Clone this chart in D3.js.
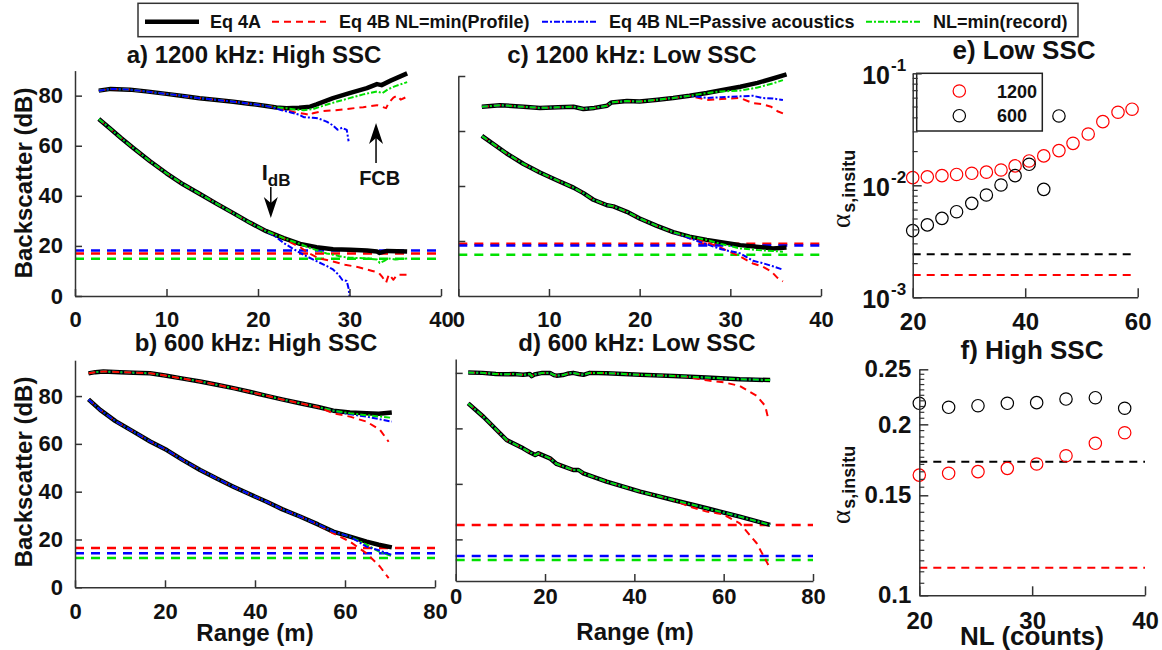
<!DOCTYPE html>
<html><head><meta charset="utf-8">
<script src="https://cdn.jsdelivr.net/npm/d3@7"></script>
<style>
body{margin:0;background:#fff}
svg text{font-family:"Liberation Sans",Arial,Helvetica,sans-serif;font-weight:bold;fill:#111}
</style>
</head><body>
<svg id="chart" width="1162" height="650"></svg>
<script>
// ---------------- DATA ----------------
function withTail(base, xmax, extra){ return base.filter(p => p[0] <= xmax).concat(extra); }

// Panel a: 1200 kHz, High SSC  ([range m, backscatter dB])
const aTopEq4A = [[2.6,82.0],[3.9,82.7],[6,82.4],[8,81.6],[10,80.7],[12,79.8],[13.6,79.0],[15.5,78.3],[17.3,77.6],[19,76.8],[20.9,75.9],[22,75.3],[23.1,75.0],[24.5,75.2],[25.7,75.6],[26.4,76.5],[28.2,79.0],[30,81.0],[31.9,83.0],[33.0,84.6],[33.5,84.2],[34.5,86.0],[36.3,88.9]];
const aTopProf = withTail(aTopEq4A, 22, [[23,74.2],[24,73.4],[25.2,72.7],[25.8,72.2],[26,73.0],[27,73.8],[28.5,74.2],[30,74.8],[31.5,75.4],[33,76.2],[33.5,75.6],[34,75.0],[34.3,77.2],[34.8,79.2],[35.2,80.0],[35.6,78.4],[36.3,79.6]]);
const aTopPass = withTail(aTopEq4A, 20.9, [[21.5,75.4],[22.5,74.3],[23.5,73.4],[24.5,72.4],[25.0,71.4],[26.0,71.2],[26.6,70.9],[27.5,69.6],[28.2,68.1],[28.7,66.4],[29.2,67.2],[29.7,66.3],[29.9,61.8]]);
const aTopRec = withTail(aTopEq4A, 23.1, [[24,74.5],[25,74.2],[26,74.6],[27,75.8],[28.5,77.5],[30,79.0],[31.5,80.5],[33,81.7],[33.6,81.0],[34.2,82.5],[35,83.8],[36.3,85.4]]);
const aLowEq4A = [[2.6,70.7],[3.8,67.0],[5,63.2],[6.4,59.0],[8.2,53.8],[10,49.0],[11.8,44.6],[13.65,40.7],[15.5,36.8],[17.3,33.1],[19.1,29.3],[20.9,25.9],[22.8,23.1],[24.6,20.8],[26.4,19.5],[28.2,18.7],[30.1,18.5],[31.9,18.2],[33.0,17.8],[33.3,17.2],[34.1,18.0],[36.3,17.8]];
const aLowProf = withTail(aLowEq4A, 22.8, [[23.5,21.5],[24.6,19.5],[25.5,17.2],[26.4,15.5],[27,14.8],[28.2,13.8],[29.5,12.5],[31,11.5],[32.5,10.0],[33.2,9.3],[33.6,7.5],[34.0,5.3],[34.3,8.6],[34.8,6.5],[35.2,8.5],[36.3,8.5]]);
const aLowPass = withTail(aLowEq4A, 20.9, [[21.8,24.0],[22.8,21.2],[24,18.5],[24.6,17.2],[25.5,15.5],[26.4,13.9],[27.5,12.0],[28.2,10.6],[28.8,8.5],[29.2,6.5],[29.7,6.0],[29.9,3.0],[30.0,0]]);
const aLowRec = withTail(aLowEq4A, 24.6, [[25.5,19.4],[26.4,18.3],[27.5,17.0],[28.2,16.5],[29,15.8],[30,15.3],[31.9,15.0],[33,14.6],[33.3,13.2],[33.8,14.0],[34.2,15.0],[35,14.6],[36.3,15.0]]);
const aNoise = [17.0, 18.2, 14.9];   // NL = min(Profile), Passive acoustics, min(record)

// Panel c: 1200 kHz, Low SSC
const cTopEq4A = [[2.6,68.8],[4.6,69.4],[7.2,68.8],[9,68.4],[11,68.6],[12.7,68.8],[13.8,68.0],[15,68.4],[16.4,69.2],[16.9,70.4],[18.6,70.9],[20,70.7],[22,71.4],[23.7,72.0],[25.5,72.8],[27.4,73.8],[29,74.8],[31.1,76.1],[33,77.5],[34.7,79.1],[36.2,80.6]];
const cTopProf = withTail(cTopEq4A, 25.5, [[27.4,71.3],[29,71.6],[31.1,72.0],[32.5,70.1],[33.5,69.8],[34.5,68.8],[35.2,67.2],[35.8,66.4]]);
const cTopPass = withTail(cTopEq4A, 25.5, [[27.4,72.0],[29,72.3],[31.1,72.6],[32.5,72.8],[33.5,72.0],[34.7,71.8],[35.8,71.3]]);
const cTopRec = withTail(cTopEq4A, 27.4, [[29,74.4],[31.1,74.7],[33,75.8],[34.7,77.3],[35.8,78.5]]);
const cLowEq4A = [[2.6,58.2],[5.3,51.9],[7.2,48.0],[9.0,44.9],[10.8,42.2],[12.7,39.4],[13.8,37.4],[14.9,35.0],[16.4,33.0],[17.1,32.6],[18.6,30.6],[20.0,28.2],[21.9,25.5],[23.7,23.2],[25.5,21.6],[27.4,20.4],[31.1,18.5],[34.7,17.3],[36.2,17.6]];
const cLowProf = withTail(cLowEq4A, 23.7, [[25.5,21.0],[27.4,19.5],[29,17.5],[31.1,14.3],[32.5,11.8],[33.5,10.8],[34.5,9.0],[35.2,6.6],[35.8,5.3]]);
const cLowPass = withTail(cLowEq4A, 23.7, [[25.5,21.0],[27.4,18.8],[29,17.0],[31.1,15.5],[32.5,12.8],[33.5,12.0],[34.7,10.8],[35.8,9.6]]);
const cLowRec = withTail(cLowEq4A, 27.4, [[29,18.9],[31.1,17.3],[33,16.7],[34.7,16.4],[35.8,16.1]]);
const cNoise = [19.0, 18.4, 15.0];

// Panel b: 600 kHz, High SSC
const bTopEq4A = [[3.0,89.5],[4.5,90.0],[6.3,90.3],[10,90.0],[13,89.8],[16.7,89.5],[20,88.6],[24,87.3],[27.8,86.1],[31.5,84.7],[35.2,83.3],[39,81.7],[42.6,80.1],[46,78.6],[50,77.0],[54,75.4],[57.4,73.9],[61.1,73.1],[64.8,72.8],[67.5,72.6],[70.4,73.1]];
const bTopProf = withTail(bTopEq4A, 54, [[57.4,72.8],[61.1,71.4],[64.8,69.3],[67.8,65.8],[69.7,60.9]]);
const bTopPass = withTail(bTopEq4A, 57.4, [[61.1,72.4],[64.8,71.4],[70.4,69.3]]);
const bTopRec = withTail(bTopEq4A, 57.4, [[61.1,72.8],[64.8,72.0],[70.4,70.9]]);
const bLowEq4A = [[3.0,78.6],[5.6,74.2],[9,69.5],[13,65.1],[16.7,61.0],[20.4,57.4],[24,53.2],[27.8,49.1],[31.5,45.5],[35.2,42.1],[39,38.8],[42.6,35.8],[46,32.7],[50,29.6],[54,26.3],[57.4,23.3],[61.1,21.2],[64.8,19.1],[67.5,17.8],[70.4,16.7]];
const bLowProf = withTail(bLowEq4A, 54, [[57.4,22.6],[61.1,19.1],[64.8,14.2],[67.8,8.6],[69.7,3.8]]);
const bLowPass = withTail(bLowEq4A, 61.1, [[64.8,17.0],[67.5,15.5],[70.4,13.5]]);
const bLowRec = withTail(bLowEq4A, 61.1, [[64.8,17.8],[67.5,15.0],[70.4,13.1]]);
const bNoise = [16.4, 14.2, 12.3];

// Panel d: 600 kHz, Low SSC
const dTopEq4A = [[2.8,80.1],[6,80.0],[9,79.6],[11.4,79.5],[13,79.6],[15.1,79.3],[16.6,79.6],[17.0,78.8],[17.6,79.4],[19.4,80.0],[21.1,80.0],[22.0,79.2],[22.6,79.0],[24,79.2],[25.3,79.8],[26.3,80.0],[27.5,79.6],[28.6,79.3],[30,80.0],[33.8,79.9],[41.3,79.3],[48.7,78.9],[56.2,78.3],[63.6,77.7],[70.4,77.4]];
const dTopProf = withTail(dTopEq4A, 48.7, [[52,78.5],[56.2,77.3],[60,76.6],[63.6,75.3],[67.4,71.7],[69.3,68.1],[70.0,63.3]]);
const dLowEq4A = [[2.8,69.0],[6.2,64.2],[11.4,55.8],[15.1,52.8],[16.6,51.4],[17.8,50.4],[18.5,51.0],[21.1,49.2],[22.6,47.2],[26.3,45.0],[27.5,45.0],[28.6,43.8],[33.8,40.8],[41.3,37.2],[48.7,34.2],[56.2,31.2],[63.6,28.2],[70.4,25.2]];
const dLowProf = withTail(dLowEq4A, 48.7, [[52.4,31.8],[56.2,30.0],[59.9,29.0],[63.6,25.8],[67.4,18.6],[70.0,10.8]]);
const dNoise = [25.2, 14.0, 12.6];

// Panel e: Low SSC, alpha_s,insitu vs NL
const nlE = [20.0,22.6,25.2,27.8,30.5,33.1,35.7,38.2,40.7,43.3,46.0,48.5,51.2,53.8,56.5,59.0];
const alphaE1200 = [0.0117,0.0119,0.0122,0.0125,0.0128,0.0131,0.0137,0.0149,0.0165,0.0183,0.0204,0.0237,0.0287,0.0370,0.0449,0.0478];
const alphaE600 = [0.00394,0.00443,0.00507,0.00581,0.0069,0.00819,0.01006,0.0122,0.0154,0.0092,0.0416];
const refE = [0.00158, 0.00242];     // 1200, 600

// Panel f: High SSC
const nlF = [20.0,22.6,25.2,27.8,30.4,33.0,35.6,38.2];
const alphaF1200 = [0.1628,0.1640,0.1651,0.1673,0.1703,0.1761,0.1852,0.1933];
const alphaF600 = [0.2178,0.2143,0.2157,0.2178,0.2184,0.2216,0.2228,0.2135];
const refF = [0.1118, 0.1719];

const legendLabels = ["Eq 4A", "Eq 4B NL=min(Profile)", "Eq 4B NL=Passive acoustics", "NL=min(record)"];
const freqLabels = ["1200", "600"];

// ---------------- STYLE ----------------
const RED = "#ff0000", BLUE = "#0000ff", GREEN = "#00e000", BLACK = "#000";
const sty = {
  eq4a: {stroke: BLACK, w: 4.5, dash: null},
  prof: {stroke: RED, w: 2, dash: "7,5"},
  pass: {stroke: BLUE, w: 2, dash: "6,2,2,2"},
  rec:  {stroke: GREEN, w: 2, dash: "6,2,2,2"}
};
const AX = "#333";

const svg = d3.select("#chart");

function styleAxis(g, fs){
  g.select(".domain").attr("stroke", AX).attr("stroke-width", 1.5);
  g.selectAll(".tick line").attr("stroke", AX).attr("stroke-width", 1.5);
  g.selectAll(".tick text").attr("font-size", fs).attr("fill", "#111")
    .attr("font-family", '"Liberation Sans",Arial,sans-serif').attr("font-weight", "bold");
}

const panels = [
  {title: "a) 1200 kHz: High SSC", tx: 254, ty: 63, xd: [0,40], xr: [75,441], yd: [0,90], yr: [296,70.6],
   xt: [0,10,20,30,40], yt: [0,20,40,60,80], ylabels: true, xpad: 15, noise: aNoise,
   curves: [{prof: aTopProf, pass: aTopPass, rec: aTopRec, eq4a: aTopEq4A, order: ["eq4a","prof","rec","pass"]},
            {prof: aLowProf, pass: aLowPass, rec: aLowRec, eq4a: aLowEq4A, order: ["eq4a","prof","pass","rec"]}],
   ylab: 183},
  {title: "c) 1200 kHz: Low SSC", tx: 632, ty: 63, xd: [0,40], xr: [458.3,821], yd: [0,80], yr: [296,76],
   xt: [0,10,20,30,40], yt: [20,40,60,80], ylabels: false, xpad: 15, noise: cNoise,
   curves: [{prof: cTopProf, pass: cTopPass, rec: cTopRec, eq4a: cTopEq4A, order: ["eq4a","prof","pass","rec"]},
            {prof: cLowProf, pass: cLowPass, rec: cLowRec, eq4a: cLowEq4A, order: ["eq4a","prof","pass","rec"]}]},
  {title: "b) 600 kHz: High SSC", tx: 256, ty: 351, xd: [0,80], xr: [75,435], yd: [0,95], yr: [587.3,360.2],
   xt: [0,20,40,60,80], yt: [0,20,40,60,80], ylabels: true, xpad: 16, noise: bNoise,
   curves: [{prof: bTopProf, pass: bTopPass, rec: bTopRec, eq4a: bTopEq4A, order: ["eq4a","pass","rec","prof"]},
            {prof: bLowProf, pass: bLowPass, rec: bLowRec, eq4a: bLowEq4A, order: ["eq4a","prof","rec","pass"]}],
   ylab: 472, xlab: [255, 641]},
  {title: "d) 600 kHz: Low SSC", tx: 637, ty: 351, xd: [0,80], xr: [455.7,813], yd: [5,85], yr: [581,359],
   xt: [0,20,40,60,80], yt: [20,40,60,80], ylabels: false, xpad: 7, noise: dNoise,
   curves: [{prof: dTopProf, pass: dTopEq4A, rec: dTopEq4A, eq4a: dTopEq4A, order: ["eq4a","prof","pass","rec"]},
            {prof: dLowProf, pass: dLowEq4A, rec: dLowEq4A, eq4a: dLowEq4A, order: ["eq4a","prof","pass","rec"]}],
   xlab: [635, 640]}
];

panels.forEach(p => {
  const x = d3.scaleLinear().domain(p.xd).range(p.xr);
  const y = d3.scaleLinear().domain(p.yd).range(p.yr);
  p.x = x; p.y = y;
  const g = svg.append("g");

  const ncol = [RED, BLUE, GREEN];
  [2,0,1].forEach(i => {
    g.append("line").attr("x1", x(p.xd[0])).attr("x2", x(p.xd[1]))
      .attr("y1", y(p.noise[i])).attr("y2", y(p.noise[i]))
      .attr("stroke", ncol[i]).attr("stroke-width", 2.5).attr("stroke-dasharray", "9,7");
  });

  const line = d3.line().x(d => x(d[0])).y(d => y(d[1]));
  p.curves.forEach(c => {
    c.order.forEach(k => {
      g.append("path").attr("d", line(c[k])).attr("fill", "none")
        .attr("stroke", sty[k].stroke).attr("stroke-width", sty[k].w)
        .attr("stroke-dasharray", sty[k].dash).attr("stroke-linejoin", "round");
    });
  });

  const gx = g.append("g").attr("transform", `translate(0,${p.yr[0]})`)
    .call(d3.axisBottom(x).tickValues(p.xt).tickSizeInner(-7).tickSizeOuter(0).tickPadding(p.xpad).tickFormat(d3.format("d")));
  styleAxis(gx, 22);
  const gy = g.append("g").attr("transform", `translate(${p.xr[0]},0)`)
    .call(d3.axisLeft(y).tickValues(p.yt).tickSizeInner(-7).tickSizeOuter(0).tickPadding(12)
      .tickFormat(p.ylabels ? d3.format("d") : () => ""));
  styleAxis(gy, 22);

  g.append("text").attr("x", p.tx).attr("y", p.ty).attr("text-anchor", "middle")
    .attr("font-size", 24).text(p.title);
  if (p.ylab) {
    g.append("text").attr("transform", `translate(32,${p.ylab}) rotate(-90)`)
      .attr("text-anchor", "middle").attr("font-size", 24).text("Backscatter (dB)");
  }
  if (p.xlab) {
    g.append("text").attr("x", p.xlab[0]).attr("y", p.xlab[1]).attr("text-anchor", "middle")
      .attr("font-size", 24).text("Range (m)");
  }
});

// annotations in panel a
(function(){
  const p = panels[0], x = p.x, y = p.y, g = svg.append("g");
  function arrow(xv, fromV, tipV){
    const X = x(xv), Y0 = y(fromV), Yt = y(tipV);
    const dir = Yt > Y0 ? 1 : -1;
    const L = 21, W = 7, N = 6;
    g.append("line").attr("x1", X).attr("x2", X).attr("y1", Y0).attr("y2", Yt - dir * (L - N))
      .attr("stroke", "#000").attr("stroke-width", 1.5);
    g.append("path").attr("d", `M${X},${Yt} L${X - W},${Yt - dir * L} L${X},${Yt - dir * (L - N)} L${X + W},${Yt - dir * L} Z`)
      .attr("fill", "#000");
  }
  arrow(21.4, 43.5, 31.1);
  arrow(32.9, 53.1, 69.1);
  const t = g.append("text").attr("x", x(20.4)).attr("y", y(46.3)).attr("font-size", 22);
  t.append("tspan").text("I");
  t.append("tspan").attr("font-size", 17).attr("dy", 6).text("dB");
  g.append("text").attr("x", x(33.3)).attr("y", y(44.3)).attr("text-anchor", "middle")
    .attr("font-size", 20).text("FCB");
})();

// ---------------- Panels e & f ----------------
function alphaLabel(xa, ya){
  const t = svg.append("text").attr("transform", `translate(${xa},${ya}) rotate(-90)`);
  t.append("tspan").attr("font-family", '"Liberation Serif","Times New Roman",serif').attr("font-weight", "normal")
    .attr("font-size", 27).text("α");
  t.append("tspan").attr("font-size", 18).attr("dy", 5).attr("dx", 1).text("s,insitu");
}

// Panel e
(function(){
  const x = d3.scaleLinear().domain([20,60]).range([912.7,1137.7]);
  const y = d3.scaleLog().domain([1e-3,1e-1]).range([297.3,73.3]);
  const g = svg.append("g");

  const lg = g.append("g");
  lg.append("rect").attr("x", 916.7).attr("y", 73.3).attr("width", 125.6).attr("height", 57.7)
    .attr("fill", "#fff").attr("stroke", "#222").attr("stroke-width", 1.5);
  [RED, BLACK].forEach((c, i) => {
    lg.append("circle").attr("cx", 959.3).attr("cy", 91 + i * 24.7).attr("r", 6.2)
      .attr("fill", "none").attr("stroke", c).attr("stroke-width", 1.2);
    lg.append("text").attr("x", 997).attr("y", 97.5 + i * 24.7).attr("font-size", 18).text(freqLabels[i]);
  });

  [[refE[1], BLACK], [refE[0], RED]].forEach(([v, c]) => {
    g.append("line").attr("x1", x(20)).attr("x2", x(59)).attr("y1", y(v)).attr("y2", y(v))
      .attr("stroke", c).attr("stroke-width", 2).attr("stroke-dasharray", "8,6");
  });
  nlE.forEach((n, i) => {
    g.append("circle").attr("cx", x(n)).attr("cy", y(alphaE1200[i])).attr("r", 6.2)
      .attr("fill", "none").attr("stroke", RED).attr("stroke-width", 1.2);
  });
  alphaE600.forEach((v, i) => {
    g.append("circle").attr("cx", x(nlE[i])).attr("cy", y(v)).attr("r", 6.2)
      .attr("fill", "none").attr("stroke", BLACK).attr("stroke-width", 1.2);
  });

  const gx = g.append("g").attr("transform", "translate(0,297.3)")
    .call(d3.axisBottom(x).tickValues([20,40,60]).tickSizeInner(-9).tickSizeOuter(0).tickPadding(16));
  styleAxis(gx, 24);
  const minor = [];
  [1e-3, 1e-2].forEach(dec => { for (let m = 2; m <= 9; m++) minor.push(m * dec); });
  const gy = g.append("g").attr("transform", "translate(912.7,0)")
    .call(d3.axisLeft(y).tickValues([1e-3,1e-2,1e-1]).tickSizeInner(-9).tickSizeOuter(0).tickFormat(() => ""));
  styleAxis(gy, 24);
  minor.forEach(v => g.append("line").attr("x1", 912.7).attr("x2", 917.7).attr("y1", y(v)).attr("y2", y(v))
    .attr("stroke", AX).attr("stroke-width", 1.2));
  [[1e-1,"-1"],[1e-2,"-2"],[1e-3,"-3"]].forEach(([v, e]) => {
    g.append("text").attr("x", 890).attr("y", y(v) + 11).attr("text-anchor", "end").attr("font-size", 25).text("10");
    g.append("text").attr("x", 891).attr("y", y(v) - 2).attr("font-size", 17).text(e);
  });

  g.append("text").attr("x", 1024).attr("y", 59).attr("text-anchor", "middle").attr("font-size", 26).text("e) Low SSC");
  alphaLabel(850, 228);
})();

// Panel f
(function(){
  const x = d3.scaleLinear().domain([20,40]).range([919.3,1145]);
  const y = d3.scaleLog().domain([0.1,0.25]).range([595.3,369.3]);
  const g = svg.append("g");

  [[refF[1], BLACK], [refF[0], RED]].forEach(([v, c]) => {
    g.append("line").attr("x1", x(20)).attr("x2", x(40)).attr("y1", y(v)).attr("y2", y(v))
      .attr("stroke", c).attr("stroke-width", 2).attr("stroke-dasharray", "8,6");
  });
  nlF.forEach((n, i) => {
    g.append("circle").attr("cx", x(n)).attr("cy", y(alphaF600[i])).attr("r", 6.2)
      .attr("fill", "none").attr("stroke", BLACK).attr("stroke-width", 1.2);
    g.append("circle").attr("cx", x(n)).attr("cy", y(alphaF1200[i])).attr("r", 6.2)
      .attr("fill", "none").attr("stroke", RED).attr("stroke-width", 1.2);
  });

  const gx = g.append("g").attr("transform", "translate(0,595.3)")
    .call(d3.axisBottom(x).tickValues([20,30,40]).tickSizeInner(-9).tickSizeOuter(0).tickPadding(17));
  styleAxis(gx, 24);
  const gy = g.append("g").attr("transform", "translate(919.3,0)")
    .call(d3.axisLeft(y).tickValues([0.1,0.15,0.2,0.25]).tickSizeInner(-9).tickSizeOuter(0).tickPadding(8)
      .tickFormat(d => String(d)));
  styleAxis(gy, 24);
  const minor = d3.range(21, 50).map(k => k * 0.005).filter(v => Math.abs(v*20 - Math.round(v*20)) > 1e-6);
  minor.forEach(v => g.append("line").attr("x1", 919.3).attr("x2", 924.3).attr("y1", y(v)).attr("y2", y(v))
    .attr("stroke", AX).attr("stroke-width", 1.2));

  g.append("text").attr("x", 1032).attr("y", 359).attr("text-anchor", "middle").attr("font-size", 26).text("f) High SSC");
  g.append("text").attr("x", 1032).attr("y", 645).attr("text-anchor", "middle").attr("font-size", 26).text("NL (counts)");
  alphaLabel(850, 524);
})();

// ---------------- Top legend ----------------
(function(){
  const g = svg.append("g");
  g.append("rect").attr("x", 138).attr("y", 3.3).attr("width", 940).attr("height", 33.4)
    .attr("fill", "#fff").attr("stroke", "#333").attr("stroke-width", 1.5);
  const items = [
    {k: "eq4a", s: 145, t: 210},
    {k: "prof", s: 272, t: 339},
    {k: "pass", s: 542, t: 609},
    {k: "rec",  s: 866, t: 933}
  ];
  items.forEach((it, i) => {
    g.append("line").attr("x1", it.s).attr("x2", it.s + 54).attr("y1", 21.7).attr("y2", 21.7)
      .attr("stroke", sty[it.k].stroke).attr("stroke-width", sty[it.k].w)
      .attr("stroke-dasharray", sty[it.k].dash);
    g.append("text").attr("x", it.t).attr("y", 28).attr("font-size", 18).text(legendLabels[i]);
  });
})();
</script>
</body></html>
